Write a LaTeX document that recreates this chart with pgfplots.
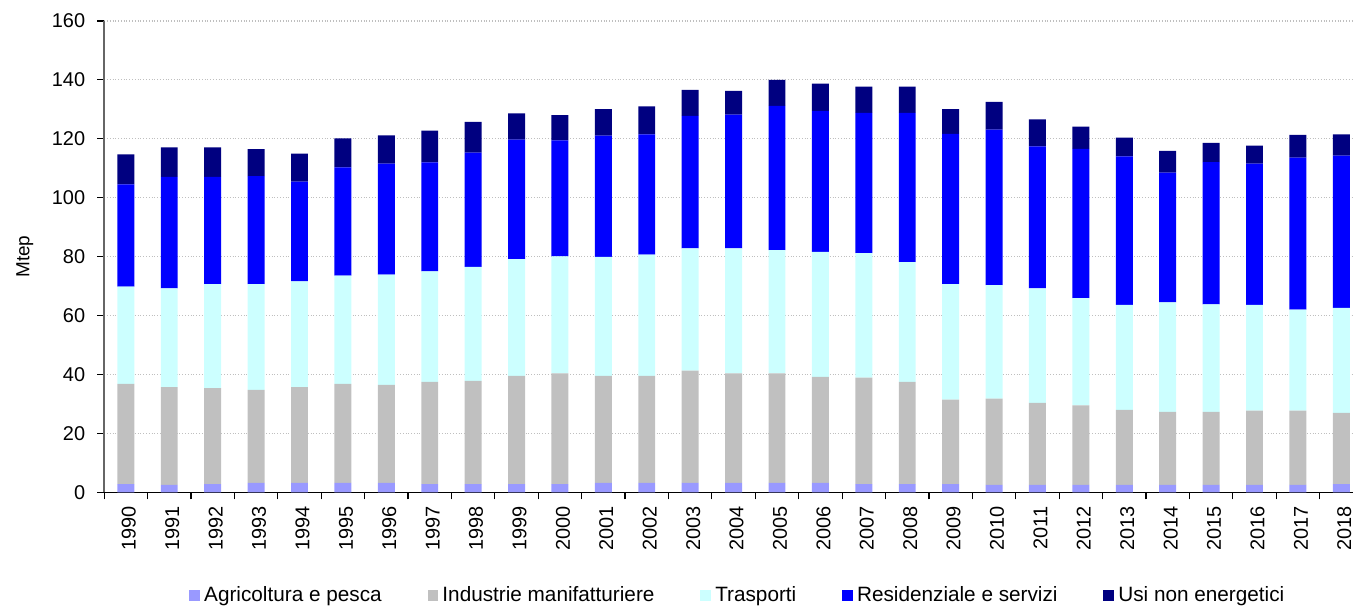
\documentclass[border=0pt]{standalone}
\usepackage{pgfplots}
\usepackage{pgfplotstable}
\pgfplotsset{compat=1.18}
\usepackage{fontspec}
\setmainfont{Liberation Sans}
\usetikzlibrary{calc}
\definecolor{cAgri}{HTML}{9999FF}
\definecolor{cInd}{HTML}{C0C0C0}
\definecolor{cTra}{HTML}{CCFFFF}
\definecolor{cRes}{HTML}{0000FF}
\definecolor{cUsi}{HTML}{000080}
\pgfplotstableread{
x year agri ind tra res usi
0 1990 2.8 34.0 33.0 34.7 10.2
1 1991 2.5 33.2 33.5 37.9 10.0
2 1992 2.8 32.6 35.3 36.4 10.0
3 1993 3.2 31.6 35.9 36.6 9.2
4 1994 3.2 32.5 35.9 33.9 9.5
5 1995 3.2 33.6 36.8 36.7 9.8
6 1996 3.2 33.3 37.4 37.7 9.6
7 1997 2.8 34.7 37.5 37.0 10.8
8 1998 2.8 35.0 38.7 38.8 10.4
9 1999 2.8 36.7 39.7 40.5 8.9
10 2000 2.8 37.6 39.7 39.4 8.5
11 2001 3.2 36.3 40.4 41.2 9.0
12 2002 3.2 36.3 41.2 40.8 9.5
13 2003 3.2 38.1 41.5 45.0 8.8
14 2004 3.2 37.2 42.4 45.4 8.1
15 2005 3.2 37.2 41.8 49.0 8.8
16 2006 3.2 36.0 42.4 47.9 9.2
17 2007 2.8 36.1 42.3 47.6 8.9
18 2008 2.8 34.7 40.6 50.7 8.9
19 2009 2.8 28.7 39.2 51.0 8.4
20 2010 2.5 29.3 38.5 52.8 9.4
21 2011 2.5 27.9 38.8 48.2 9.2
22 2012 2.5 27.0 36.4 50.7 7.5
23 2013 2.5 25.5 35.6 50.4 6.4
24 2014 2.5 24.8 37.2 44.0 7.4
25 2015 2.5 24.8 36.5 48.3 6.5
26 2016 2.5 25.2 35.9 48.0 6.1
27 2017 2.5 25.2 34.3 51.6 7.7
28 2018 2.8 24.2 35.6 51.7 7.2
}\datatable
\begin{document}
\begin{tikzpicture}
\begin{axis}[
  name=ax,
  scale only axis,
  width=626.75pt, height=236.5pt,
  ybar stacked, bar width=8.5pt,
  xmin=-0.5, xmax=28.28,
  ymin=0, ymax=160,
  ytick={0,20,...,160},
  xtick={0,...,28},
  xticklabels={1990,1991,1992,1993,1994,1995,1996,1997,1998,1999,2000,2001,2002,2003,2004,2005,2006,2007,2008,2009,2010,2011,2012,2013,2014,2015,2016,2017,2018},
  minor xtick={-0.5,0.5,...,27.5},
  major x tick style={draw=none},
  tick align=outside,
  major tick length=3.5pt, minor tick length=3.5pt,
  axis lines*=left,
  axis line style={-},
  x axis line style={black, line width=0.8pt},
  y axis line style={gray!80!black, line width=0.8pt},
  every tick/.style={black, line width=0.6pt},
  ymajorgrids,
  grid style={densely dotted, gray!50, line width=0.6pt},
  /pgf/number format/assume math mode=true,
  tick label style={font=\fontsize{10}{11}\selectfont},
  yticklabel style={xshift=-2.5pt},
  xticklabel style={rotate=90, anchor=east, yshift=-1.5pt},
  ylabel={Mtep},
  every axis y label/.style={at={(axis description cs:-0.0634,0.5)}, rotate=90, anchor=center, font=\fontsize{9.5}{10}\selectfont},
  legend columns=5,
  legend style={at={(axis description cs:0.508,-0.218)}, anchor=center, draw=none, fill=none,
    font=\fontsize{10.4}{11}\selectfont,
    /tikz/every even column/.append style={column sep=21pt}},
  legend image code/.code={\fill[#1] (0pt,-2.75pt) rectangle (5.5pt,2.75pt);},
]
\addplot[fill=cAgri, draw=none] table[x=x, y=agri] {\datatable};
\addplot[fill=cInd, draw=none] table[x=x, y=ind] {\datatable};
\addplot[fill=cTra, draw=none] table[x=x, y=tra] {\datatable};
\addplot[fill=cRes, draw=none] table[x=x, y=res] {\datatable};
\addplot[fill=cUsi, draw=none] table[x=x, y=usi] {\datatable};
\legend{Agricoltura e pesca, Industrie manifatturiere, Trasporti, Residenziale e servizi, Usi non energetici}
\end{axis}
\path ($(ax.south west)+(-52.25pt,-56.5pt)$) rectangle ($(ax.north east)+(0pt,10.5pt)$);
\end{tikzpicture}
\end{document}
